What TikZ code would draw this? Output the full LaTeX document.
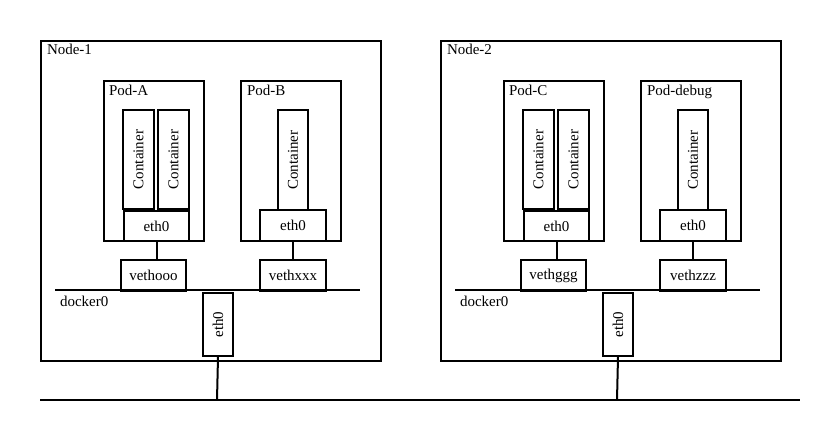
\documentclass[tikz,border=0pt]{standalone}
\usepackage{fontspec}
\setmainfont{Liberation Serif}
\begin{document}
\begin{tikzpicture}[x=1pt,y=-1pt,line width=2pt,
  box/.style={draw,rectangle,inner sep=0pt,anchor=north west},
  lbl/.style={anchor=north west,inner sep=0pt,font=\fontsize{15}{17}\selectfont},
  txt/.style={inner sep=0pt,font=\fontsize{15}{17}\selectfont}]
\useasboundingbox (0,0) rectangle (840,440);
\foreach \i/\dx/\nn/\pa/\pb/\va/\vb in {1/0/Node-1/Pod-A/Pod-B/vethooo/vethxxx,2/400/Node-2/Pod-C/Pod-debug/vethggg/vethzzz}{
 \begin{scope}[xshift=\dx]
  \node[box,minimum width=340,minimum height=320] (node\i) at (40,40) {};
  \node[lbl] (nl\i) at (46,43) {\nn};
  \node[box,minimum width=100,minimum height=160] (pa\i) at (103,80) {};
  \node[lbl] (pal\i) at (108,84) {\pa};
  \node[box,minimum width=31,minimum height=99] (ca\i) at (122,109) {};
  \node[txt,rotate=90] at (ca\i.center) {Container};
  \node[box,minimum width=31,minimum height=99] (cb\i) at (157,109) {};
  \node[txt,rotate=90] at (cb\i.center) {Container};
  \node[box,minimum width=65,minimum height=30] (ea\i) at (123,210) {};
  \node[txt] at (ea\i.center) {eth0};
  \node[box,minimum width=100,minimum height=160] (pb\i) at (240,80) {};
  \node[lbl] (pbl\i) at (246,84) {\pb};
  \node[box,minimum width=30,minimum height=100] (cc\i) at (277,109) {};
  \node[txt,rotate=90] at (cc\i.center) {Container};
  \node[box,minimum width=66,minimum height=31] (eb\i) at (259,209) {};
  \node[txt] at (eb\i.center) {eth0};
  \node[box,minimum width=65,minimum height=31] (va\i) at (120,259) {};
  \node[txt] at (va\i.center) {\va};
  \node[box,minimum width=66,minimum height=31] (vb\i) at (259,259) {};
  \node[txt] at (vb\i.center) {\vb};
  \coordinate (dl\i) at (55,290);
  \coordinate (dr\i) at (360,290);
  \draw (dl\i) -- (dr\i);
  \node[lbl] (dk\i) at (59,295) {docker0};
  \node[box,minimum width=30,minimum height=63] (e\i) at (202,292) {};
  \node[txt,rotate=90] at (e\i.center) {eth0};
  \draw (ea\i.south) -- (ea\i.south |- va\i.north);
  \draw (eb\i.south) -- (vb\i.north);
  \coordinate (b\i) at (217,400);
  \draw (e\i.south) -- (b\i);
 \end{scope}
}
\coordinate (bl) at (40,400);
\coordinate (br) at (800,400);
\draw (bl) -- (br);
\end{tikzpicture}
\end{document}
